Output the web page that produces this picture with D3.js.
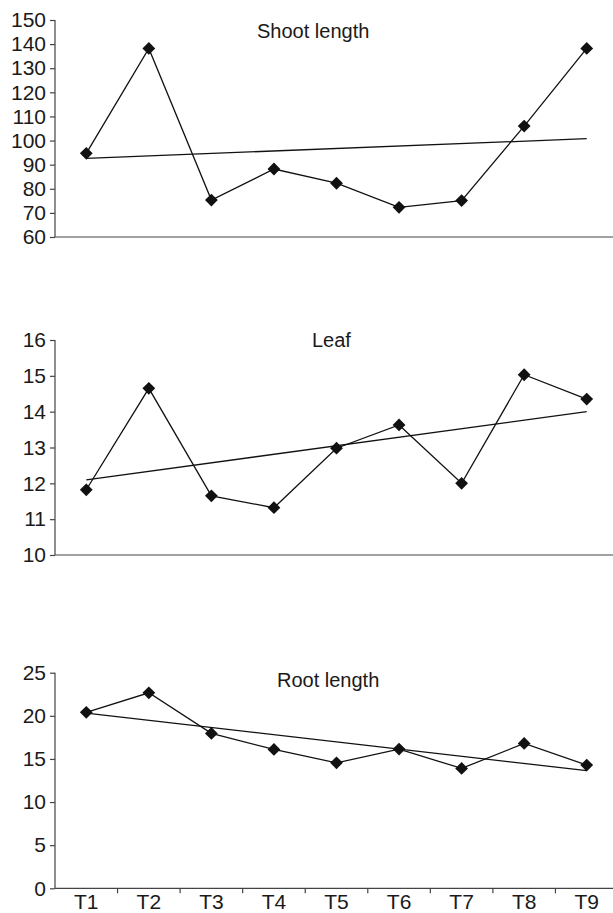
<!DOCTYPE html>
<html>
<head>
<meta charset="utf-8">
<script src="https://cdn.jsdelivr.net/npm/d3@7"></script>
<style>
  body { margin: 0; background: #fff; }
  svg { display: block; font-family: "Liberation Sans", Arial, sans-serif; }
  .axis path, .axis line { stroke: #444; stroke-width: 1.2px; }
  .axis text { font-size: 21px; fill: #1a1a1a; }
  .title { font-size: 20px; fill: #1a1a1a; }
</style>
</head>
<body>
<div id="chart"></div>
<script>
const treatments = ["T1", "T2", "T3", "T4", "T5", "T6", "T7", "T8", "T9"];

const shootLength = [94.7, 138.2, 75.3, 88.2, 82.3, 72.3, 75.1, 106, 138.2];
const leaf = [11.82, 14.65, 11.65, 11.32, 12.98, 13.63, 12.0, 15.03, 14.35];
const rootLength = [20.4, 22.67, 17.96, 16.1, 14.55, 16.14, 13.9, 16.8, 14.29];

const shootTicks = [60, 70, 80, 90, 100, 110, 120, 130, 140, 150];
const leafTicks = [10, 11, 12, 13, 14, 15, 16];
const rootTicks = [0, 5, 10, 15, 20, 25];

const width = 613, height = 913;

const svg = d3.select("#chart").append("svg")
  .attr("width", width)
  .attr("height", height);

const x = d3.scaleBand()
  .domain(treatments)
  .range([55, 618]);

// simple least squares fit over the treatment index (1..n)
function linearFit(values) {
  const xs = values.map((v, i) => i + 1);
  const mx = d3.mean(xs), my = d3.mean(values);
  let sxy = 0, sxx = 0;
  xs.forEach((xi, i) => {
    sxy += (xi - mx) * (values[i] - my);
    sxx += (xi - mx) * (xi - mx);
  });
  const slope = sxy / sxx;
  return i => my + slope * (i + 1 - mx);
}

const panels = [
  { title: "Shoot length", values: shootLength, ticks: shootTicks, top: 20, bottom: 237, titleX: 257, titleY: 38, xTicks: false },
  { title: "Leaf", values: leaf, ticks: leafTicks, top: 340, bottom: 555, titleX: 312, titleY: 347, xTicks: false },
  { title: "Root length", values: rootLength, ticks: rootTicks, top: 672.7, bottom: 888.3, titleX: 277, titleY: 687, xTicks: true }
];

const cx = d => x(d) + x.bandwidth() / 2;
const diamond = d3.symbol().type(d3.symbolSquare).size(82);

panels.forEach(p => {
  const y = d3.scaleLinear()
    .domain(d3.extent(p.ticks))
    .range([p.bottom, p.top]);

  const g = svg.append("g");

  // y axis
  g.append("g")
    .attr("class", "axis")
    .attr("transform", "translate(55,0)")
    .call(d3.axisLeft(y).tickValues(p.ticks).tickSize(5).tickPadding(4).tickFormat(d3.format("d")))
    .call(a => a.select(".domain").attr("d", `M0,${p.top}V${p.bottom}`));

  // x axis
  const xa = g.append("g")
    .attr("class", "axis")
    .attr("transform", `translate(0,${p.bottom})`);
  if (p.xTicks) {
    xa.call(d3.axisBottom(x).tickSize(0).tickPadding(6));
    xa.select(".domain").attr("d", `M55,0H${width}`);
    xa.selectAll(".bound")
      .data(treatments)
      .enter().append("line")
      .attr("x1", d => x(d) + x.bandwidth())
      .attr("x2", d => x(d) + x.bandwidth())
      .attr("y1", 0)
      .attr("y2", 5);
    xa.selectAll("text").attr("dy", "0.71em");
  } else {
    xa.append("path").attr("d", `M55,0H${width}`).attr("fill", "none");
  }

  // trend line
  const fit = linearFit(p.values);
  g.append("line")
    .attr("x1", cx(treatments[0]))
    .attr("y1", y(fit(0)))
    .attr("x2", cx(treatments[treatments.length - 1]))
    .attr("y2", y(fit(treatments.length - 1)))
    .attr("stroke", "#111")
    .attr("stroke-width", 1.3);

  // data line
  const line = d3.line()
    .x((d, i) => cx(treatments[i]))
    .y(d => y(d));

  g.append("path")
    .datum(p.values)
    .attr("d", line)
    .attr("fill", "none")
    .attr("stroke", "#111")
    .attr("stroke-width", 1.3);

  g.selectAll(".pt")
    .data(p.values)
    .enter().append("path")
    .attr("class", "pt")
    .attr("d", diamond)
    .attr("transform", (d, i) => `translate(${cx(treatments[i])},${y(d)}) rotate(45)`)
    .attr("fill", "#111");

  g.append("text")
    .attr("class", "title")
    .attr("x", p.titleX)
    .attr("y", p.titleY)
    .text(p.title);
});
</script>
</body>
</html>
